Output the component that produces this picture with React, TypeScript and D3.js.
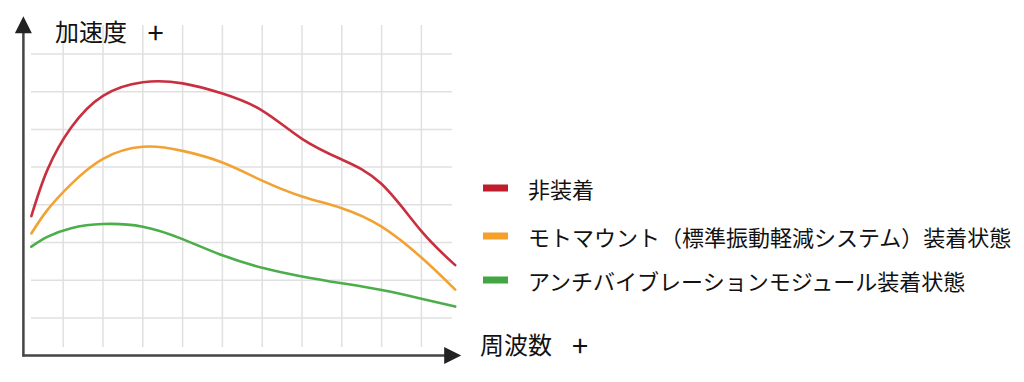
import React from "react";
import * as d3 from "d3";

const freq = [0.2, 0.6, 1.2, 2, 3, 4, 5, 6, 7, 8, 9, 10, 10.85];
const nonMounted = [3.7, 4.92, 6.05, 6.89, 7.25, 7.22, 6.95, 6.5, 5.75, 5.2, 4.55, 3.3, 2.4];
const motoMount = [3.24, 3.86, 4.55, 5.22, 5.54, 5.43, 5.12, 4.64, 4.22, 3.91, 3.42, 2.6, 1.75];
const antiVibration = [2.89, 3.15, 3.38, 3.49, 3.42, 3.09, 2.66, 2.33, 2.1, 1.92, 1.74, 1.51, 1.3];

const seriesNames = [
  "非装着",
  "モトマウント（標準振動軽減システム）装着状態",
  "アンチバイブレーションモジュール装着状態",
];
const lineColors = ["#c8303f", "#f2a232", "#4cae4a"];
const swatchColors = ["#c01c2c", "#f5a02c", "#42a642"];
const gridX = [1, 2, 3, 4, 5, 6, 7, 8, 9, 10];
const gridY = [1, 2, 3, 4, 5, 6, 7, 8];
const yLabel = "加速度";
const xLabel = "周波数";

const W = 1024;
const H = 382;
const FONT = "'Noto Sans CJK JP', 'Noto Sans', sans-serif";

export default function App() {
  const x = d3.scaleLinear().domain([0, 11]).range([23.4, 461.2]);
  const y = d3.scaleLinear().domain([0, 9]).range([355.6, 16.3]);
  const line = d3
    .line<number>()
    .x((_, i) => x(freq[i]))
    .y((d) => y(d))
    .curve(d3.curveNatural);
  const all = [nonMounted, motoMount, antiVibration];
  const legendY = [188, 236, 280];

  return (
    <svg
      width={W}
      height={H}
      style={{ position: "absolute", left: 0, top: 0, background: "#fff" }}
      fontFamily={FONT}
    >
      <rect width={W} height={H} fill="#fff" />
      {gridX.map((g) => (
        <line key={"gx" + g} x1={x(g)} x2={x(g)} y1={25} y2={347} stroke="#e0e0e0" strokeWidth={1.5} />
      ))}
      {gridY.map((g) => (
        <line key={"gy" + g} x1={31} x2={452} y1={y(g)} y2={y(g)} stroke="#e0e0e0" strokeWidth={1.5} />
      ))}
      {all.map((s, i) => (
        <path key={"s" + i} d={line(s) || ""} fill="none" stroke={lineColors[i]} strokeWidth={2.6} strokeLinecap="round" />
      ))}
      {/* axes */}
      <line x1={x(0)} x2={x(0)} y1={y(0) + 1} y2={y(9) + 14} stroke="#444" strokeWidth={2.5} />
      <line x1={x(0) - 1} x2={x(11) - 14} y1={y(0)} y2={y(0)} stroke="#444" strokeWidth={2.5} />
      <path
        d={`M${x(0)},${y(9)} L${x(0) - 8.5},${y(9) + 17} L${x(0) + 8.5},${y(9) + 17} Z`}
        fill="#222"
      />
      <path
        d={`M${x(11)},${y(0)} L${x(11) - 17},${y(0) - 8.5} L${x(11) - 17},${y(0) + 8.5} Z`}
        fill="#222"
      />
      <text x={55} y={30} fontSize={24} dominantBaseline="central" fill="#111">
        {yLabel}
      </text>
      <text x={155.5} y={31} fontSize={29} dominantBaseline="central" textAnchor="middle" fill="#111">
        +
      </text>
      <text x={480} y={343} fontSize={24} dominantBaseline="central" fill="#111">
        {xLabel}
      </text>
      <text x={580} y={344} fontSize={29} dominantBaseline="central" textAnchor="middle" fill="#111">
        +
      </text>
      {seriesNames.map((n, i) => (
        <g key={"lg" + i}>
          <rect x={483} y={legendY[i] - 3.5} width={25} height={7} fill={swatchColors[i]} />
          <text x={528} y={legendY[i]} fontSize={22} dominantBaseline="central" fill="#111">
            {n}
          </text>
        </g>
      ))}
    </svg>
  );
}
